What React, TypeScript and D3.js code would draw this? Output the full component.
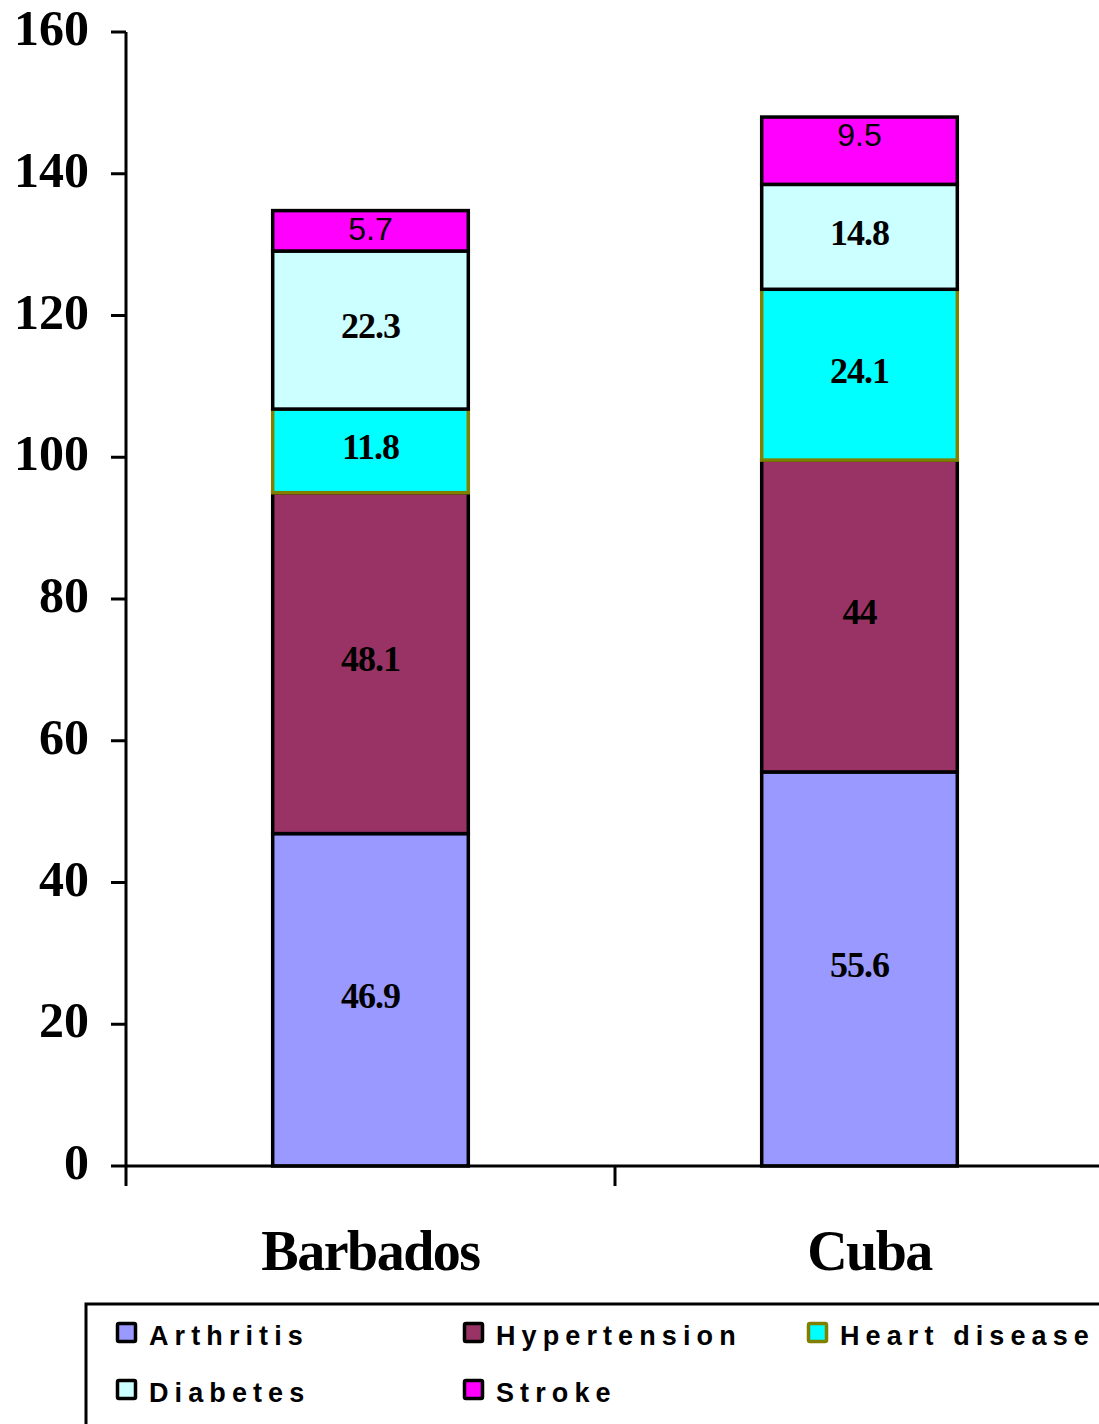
import React from "react";
import * as d3 from "d3";

const categories = ["Barbados", "Cuba"];
const seriesNames = ["Arthritis", "Hypertension", "Heart disease", "Diabetes", "Stroke"];
const arthritis = [46.9, 55.6];
const hypertension = [48.1, 44];
const heartDisease = [11.8, 24.1];
const diabetes = [22.3, 14.8];
const stroke = [5.7, 9.5];
const yTicks = [0, 20, 40, 60, 80, 100, 120, 140, 160];

const fills = ["#9999FF", "#993366", "#00FFFF", "#CCFFFF", "#FF00FF"];
const strokes = ["#000000", "#000000", "#808000", "#000000", "#000000"];

const W = 1099;
const H = 1424;

export default function App() {
  const seriesValues = [arthritis, hypertension, heartDisease, diabetes, stroke];
  const rows = categories.map((c, i) => {
    const r: any = { category: c };
    seriesNames.forEach((s, k) => (r[s] = seriesValues[k][i]));
    return r;
  });
  const stack = d3.stack<any>().keys(seriesNames)(rows);

  const x = d3
    .scaleBand<string>()
    .domain(categories)
    .range([126, 1104])
    .paddingInner(0.6)
    .paddingOuter(0.3);
  const y = d3.scaleLinear().domain([0, 160]).range([1166, 32]);
  const step = x.step();
  const bandEdges = [0, 1, 2].map((i) => 126 + i * step);
  const catLabelShift = [0, 10];

  const serif = "'Liberation Serif', 'Times New Roman', serif";
  const sans = "'Liberation Sans', Arial, sans-serif";

  const legendPos = [
    { x: 116, y: 1322 },
    { x: 463, y: 1322 },
    { x: 807, y: 1322 },
    { x: 116, y: 1379 },
    { x: 463, y: 1379 },
  ];

  return (
    <div style={{ position: "absolute", left: 0, top: 0 }}>
      <svg width={W} height={H} style={{ display: "block", background: "#fff" }}>
        <rect x={0} y={0} width={W} height={H} fill="#fff" />
        {/* bars */}
        {stack.map((layer, k) =>
          layer.map((d, i) => (
            <rect
              key={`${k}-${i}`}
              x={x(categories[i])}
              y={y(d[1])}
              width={x.bandwidth()}
              height={y(d[0]) - y(d[1])}
              fill={fills[k]}
              stroke={strokes[k]}
              strokeWidth={3.5}
            />
          ))
        )}
        {/* labels */}
        {stack.map((layer, k) =>
          layer.map((d, i) => {
            const isStroke = seriesNames[k] === "Stroke";
            const cx = (x(categories[i]) as number) + x.bandwidth() / 2;
            const cy = isStroke ? y(d[1]) + 18 : (y(d[0]) + y(d[1])) / 2 - 4;
            const v = seriesValues[k][i];
            return (
              <text
                key={`t-${k}-${i}`}
                x={cx}
                y={cy}
                textAnchor="middle"
                dominantBaseline="central"
                fontFamily={isStroke ? sans : serif}
                fontWeight={isStroke ? "normal" : "bold"}
                fontSize={isStroke ? 32 : 36}
                letterSpacing={isStroke ? 0 : -1}
                fill="#000"
              >
                {String(v)}
              </text>
            );
          })
        )}
        {/* y axis */}
        <line x1={126} x2={126} y1={y(160)} y2={y(0)} stroke="#000" strokeWidth={3} />
        {yTicks.map((t) => (
          <g key={t}>
            <line x1={111} x2={126} y1={y(t)} y2={y(t)} stroke="#000" strokeWidth={3} />
            <text
              x={89}
              y={y(t)}
              dy={-4}
              textAnchor="end"
              dominantBaseline="central"
              fontFamily={serif}
              fontWeight="bold"
              fontSize={50}
              fill="#000"
            >
              {t}
            </text>
          </g>
        ))}
        {/* x axis */}
        <line x1={126} x2={1104} y1={y(0)} y2={y(0)} stroke="#000" strokeWidth={3} />
        {bandEdges.map((bx, i) => (
          <line key={i} x1={bx} x2={bx} y1={y(0)} y2={y(0) + 20} stroke="#000" strokeWidth={3} />
        ))}
        {categories.map((c, i) => (
          <text
            key={c}
            x={(x(c) as number) + x.bandwidth() / 2 + catLabelShift[i]}
            y={1270}
            textAnchor="middle"
            fontFamily={serif}
            fontWeight="bold"
            fontSize={56}
            letterSpacing={-1.5}
            fill="#000"
          >
            {c}
          </text>
        ))}
        {/* legend */}
        <rect x={86} y={1304} width={1040} height={140} fill="#fff" stroke="#000" strokeWidth={3} />
        {seriesNames.map((s, k) => (
          <g key={s}>
            <rect
              x={legendPos[k].x + 1.5}
              y={legendPos[k].y + 1.5}
              width={18}
              height={18}
              fill={fills[k]}
              stroke={k === 2 ? "#808000" : "#000"}
              strokeWidth={3.5}
              rx={1.5}
            />
            <text
              x={legendPos[k].x + 33}
              y={legendPos[k].y + 23}
              fontFamily={sans}
              fontWeight="bold"
              fontSize={27}
              letterSpacing={6.1}
              fill="#000"
            >
              {s}
            </text>
          </g>
        ))}
      </svg>
    </div>
  );
}
